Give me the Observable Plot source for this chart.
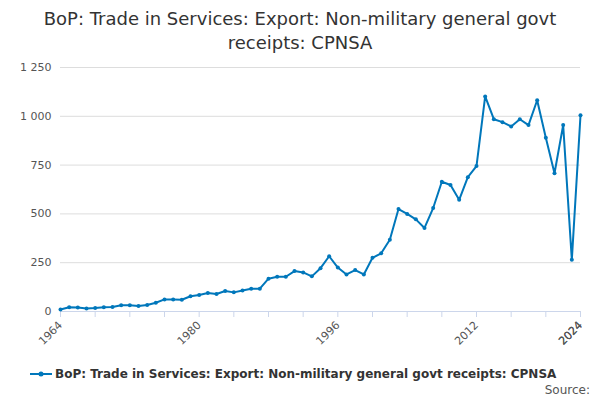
<!DOCTYPE html>
<html><head><meta charset="utf-8">
<script src="https://cdn.jsdelivr.net/npm/d3@7"></script>
<script src="https://cdn.jsdelivr.net/npm/@observablehq/plot@0.6"></script>
<style>
body{margin:0;font-family:"DejaVu Sans",sans-serif;background:#fff;width:600px;}
#title{text-align:center;font-size:18px;color:#333;line-height:24px;padding-top:7px;height:50px;}
#legend{font-size:12px;color:#333;padding-left:30px;height:18px;display:flex;align-items:center;margin-top:4px}
#src{font-size:12px;color:#555;text-align:right;padding-right:10px;}
</style></head><body>
<div id="title">BoP: Trade in Services: Export: Non-military general govt<br>receipts: CPNSA</div>
<div id="chart"></div>
<div id="legend"><svg width="22" height="10"><line x1="0" y1="5" x2="22" y2="5" stroke="#0077bb" stroke-width="2"/><circle cx="11" cy="5" r="2.5" fill="#0077bb"/></svg><span style="margin-left:3px;font-weight:bold">BoP: Trade in Services: Export: Non-military general govt receipts: CPNSA</span></div>
<div id="src">Source:</div>
<script>
const years = d3.range(1964, 2025);
const values = [10,22,20,15,18,22,23,32,32,28,33,45,62,62,60,78,85,95,90,105,98,108,117,117,168,178,178,207,200,180,222,283,225,190,212,190,275,298,368,525,500,472,428,530,665,648,572,688,745,1102,985,970,948,985,955,1082,890,708,955,265,1005];
const xTicks = [1964,1980,1996,2012,2024];
const yTicks = [0,250,500,750,1000,1250];
const data = years.map((y,i)=>({year:y,value:values[i]}));
const fmt = d => d3.format(",")(d).replace(/,/g," ");
const chart = Plot.plot({
  width:600, height:304,
  marginLeft:60, marginRight:20, marginTop:10, marginBottom:50,
  style:{fontFamily:"DejaVu Sans",fontSize:"11px",color:"#555"},
  x:{domain:[1964,2024], label:null},
  y:{domain:[0,1250], label:null},
  marks:[
    Plot.gridY(yTicks,{stroke:"#ddd",strokeOpacity:1}),
    Plot.axisY(yTicks,{tickFormat:fmt,tickSize:0,label:null}),
    Plot.axisX(d3.range(1964,2025,4).concat([2024]),{tickSize:6,stroke:"#ccd6eb",tickRotate:-45,label:null,
      tickFormat:d=>xTicks.includes(d)?String(d):""}),
    Plot.ruleY([0],{stroke:"#ccd6eb"}),
    Plot.line(data,{x:"year",y:"value",stroke:"#0077bb",strokeWidth:2}),
    Plot.dot(data,{x:"year",y:"value",fill:"#0077bb",r:2})
  ]
});
document.getElementById("chart").append(chart);
</script></body></html>
